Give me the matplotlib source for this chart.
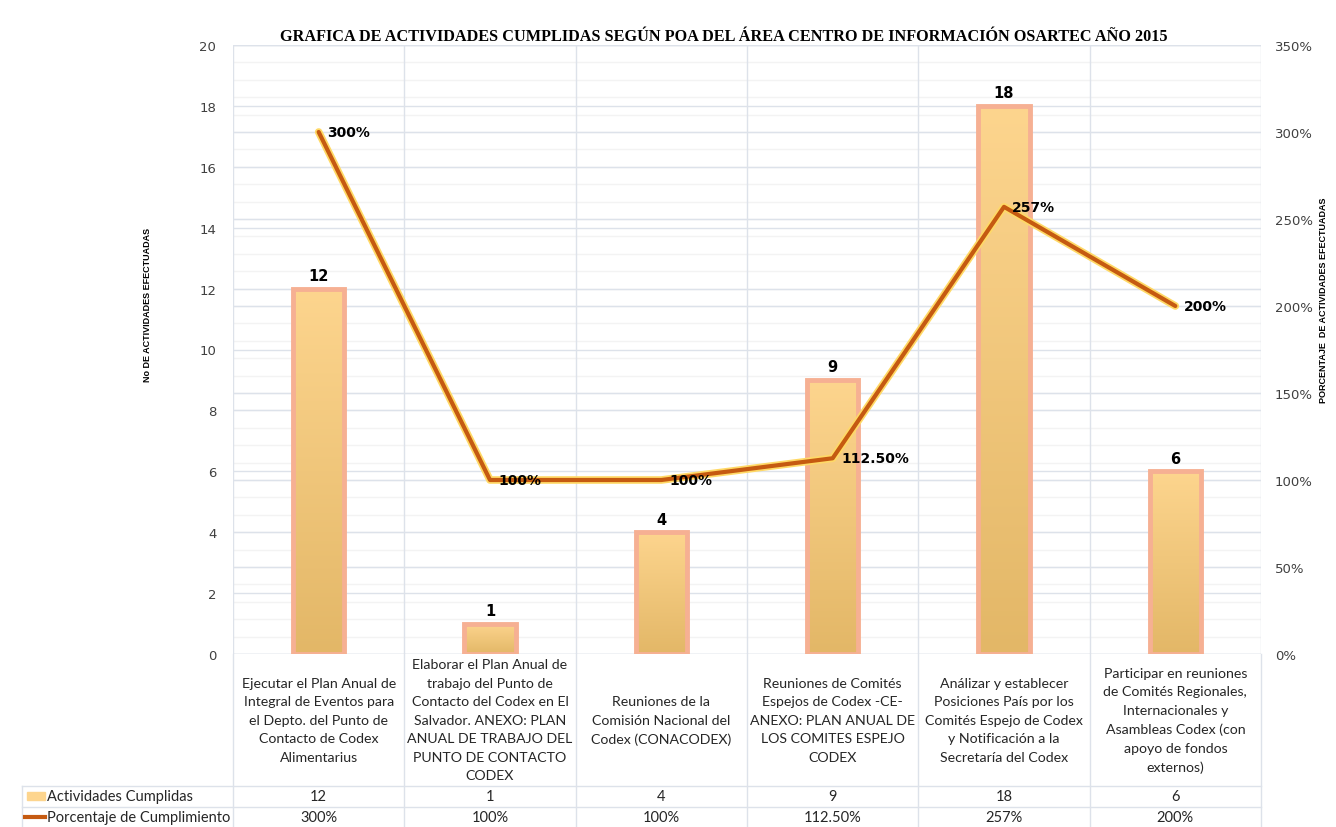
import matplotlib

matplotlib.use("Agg")
import matplotlib.pyplot as plt
import matplotlib.patheffects as pe
import numpy as np
from matplotlib.colors import LinearSegmentedColormap
from matplotlib.patches import Rectangle
from matplotlib.lines import Line2D

categories = [
    "Ejecutar el Plan Anual de\nIntegral de Eventos para\nel Depto. del Punto de\nContacto de Codex\nAlimentarius",
    "Elaborar el Plan Anual de\ntrabajo del Punto de\nContacto del Codex en El\nSalvador. ANEXO: PLAN\nANUAL DE TRABAJO DEL\nPUNTO DE CONTACTO\nCODEX",
    "Reuniones de la\nComisión Nacional del\nCodex (CONACODEX)",
    "Reuniones de Comités\nEspejos de Codex -CE-\nANEXO: PLAN ANUAL DE\nLOS COMITES ESPEJO\nCODEX",
    "Análizar y establecer\nPosiciones País por los\nComités Espejo de Codex\ny Notificación a la\nSecretaría del Codex",
    "Participar en reuniones\nde Comités Regionales,\nInternacionales y\nAsambleas Codex (con\napoyo de fondos\nexternos)",
]
actividades = [12, 1, 4, 9, 18, 6]
porcentaje = [3.00, 1.00, 1.00, 1.125, 2.57, 2.00]
porcentaje_labels = ["300%", "100%", "100%", "112.50%", "257%", "200%"]

title = "GRAFICA DE ACTIVIDADES CUMPLIDAS SEGÚN POA DEL ÁREA CENTRO DE INFORMACIÓN OSARTEC AÑO 2015"
bar_name = "Actividades Cumplidas"
line_name = "Porcentaje de Cumplimiento"

BAR_TOP = "#FDD58E"
BAR_BOT = "#E3B767"
BAR_EDGE = "#F6B093"
LINE_C = "#C55A11"
GLOW = "#FFD966"
GRID_MAJ = "#DDE2EA"
GRID_MIN = "#F3F3F3"
TICK_C = "#404040"

plt.rcParams["font.family"] = ["Lato", "DejaVu Sans"]

fig = plt.figure(figsize=(13.36, 8.28), dpi=100)
ax = fig.add_axes([233 / 1336, 1 - 655 / 828, 1028 / 1336, 609 / 828])
ax2 = ax.twinx()

x = np.arange(len(categories))
n = len(categories)
Y1MAX, Y2MAX = 20, 3.5
scale = Y1MAX / Y2MAX

# grids (all on the primary axes so they stay behind the bars)
ax.set_ylim(0, Y1MAX)
ax2.set_ylim(0, Y2MAX)
ax.set_xlim(-0.5, n - 0.5)
for v in np.arange(0, Y2MAX + 0.01, 0.1):
    ax.axhline(v * scale, color=GRID_MIN, lw=1, zorder=0)
for v in np.arange(0, Y2MAX + 0.01, 0.5):
    ax.axhline(v * scale, color=GRID_MAJ, lw=1, zorder=0.5)
for v in range(0, Y1MAX + 1, 2):
    ax.axhline(v, color=GRID_MAJ, lw=1, zorder=0.5)
for b in np.arange(-0.5, n, 1.0):
    ax.axvline(b, color=GRID_MAJ, lw=1, zorder=0.5)

# bars with gradient
cmap = LinearSegmentedColormap.from_list("bar", [BAR_BOT, BAR_TOP])
grad = np.linspace(0, 1, 256).reshape(-1, 1)
bw = 0.3
bars = ax.bar(x, actividades, width=bw, color="none", edgecolor=BAR_EDGE,
              linewidth=3.5, zorder=3)
for rect, val in zip(bars, actividades):
    rx, rw = rect.get_x(), rect.get_width()
    im = ax.imshow(grad, cmap=cmap, origin="lower", aspect="auto",
                   extent=[rx, rx + rw, 0, val], zorder=2)
    im.set_clip_path(rect)
    ax.text(rx + rw / 2, val + 0.18, str(val), ha="center", va="bottom",
            fontsize=10.5, fontweight="bold", family="DejaVu Sans", zorder=6)
ax.set_xlim(-0.5, n - 0.5)
ax.set_ylim(0, Y1MAX)

# line
ax2.plot(x, porcentaje, color=LINE_C, lw=3, zorder=5, solid_capstyle="round",
         path_effects=[pe.Stroke(linewidth=5.5, foreground=GLOW), pe.Normal()])
for xi, p, lab in zip(x, porcentaje, porcentaje_labels):
    ax2.annotate(lab, (xi, p), xytext=(6, 0), textcoords="offset points",
                 ha="left", va="center", fontsize=10, fontweight="bold",
                 family="DejaVu Sans", zorder=6)

# axes styling
ax.set_xticks([])
ax.set_yticks(range(0, Y1MAX + 1, 2))
ax2.set_yticks(np.arange(0, Y2MAX + 0.01, 0.5))
ax2.set_yticklabels([f"{int(round(v * 100))}%" for v in np.arange(0, Y2MAX + 0.01, 0.5)])
for a in (ax, ax2):
    a.tick_params(length=0, labelsize=9.5, colors=TICK_C)
    for s in a.spines.values():
        s.set_visible(False)
ax.tick_params(axis="y", pad=12)
ax2.tick_params(axis="y", pad=10)
for lbl in ax.get_yticklabels() + ax2.get_yticklabels():
    lbl.set_family("DejaVu Sans")

# data table below
tr = ax.get_xaxis_transform()
y_bottom = -173 / 609
y_row1 = -132 / 609
y_row2 = -153 / 609
x_left = (22 - 233) / 1028
for b in np.arange(-0.5, n, 1.0):
    ax.plot([b, b], [0, y_bottom], transform=tr, color=GRID_MAJ, lw=1, clip_on=False)
for yy in (y_row1, y_row2):
    ax.plot([x_left, 1], [yy, yy], transform=ax.transAxes, color=GRID_MAJ, lw=1, clip_on=False)
ax.plot([x_left, x_left], [y_row1, y_bottom], transform=ax.transAxes, color=GRID_MAJ,
        lw=1, clip_on=False)

for xi, cat in zip(x, categories):
    ax.text(xi, -66 / 609, cat, transform=tr, ha="center", va="center",
            fontsize=10.2, color="#262626", linespacing=1.65, clip_on=False)
r1 = (y_row1 + y_row2) / 2
r2 = (y_row2 + y_bottom) / 2
for xi, a_val, p_lab in zip(x, actividades, porcentaje_labels):
    ax.text(xi, r1, str(a_val), transform=tr, ha="center", va="center",
            fontsize=10.5, color="#262626", clip_on=False)
    ax.text(xi, r2, p_lab, transform=tr, ha="center", va="center",
            fontsize=10.5, color="#262626", clip_on=False)

# legend keys in table
fig.patches.append(Rectangle((27 / 1336, 1 - 801 / 828), 18 / 1336, 8 / 828,
                             transform=fig.transFigure, color=BAR_TOP))
fig.lines.append(Line2D([25 / 1336, 45 / 1336], [1 - 818 / 828, 1 - 818 / 828],
                        transform=fig.transFigure, color=LINE_C, lw=3))
fig.text(47 / 1336, 1 - 797 / 828, bar_name, ha="left", va="center", fontsize=10.5,
         color="#262626")
fig.text(47 / 1336, 1 - 818 / 828, line_name, ha="left", va="center", fontsize=10.5,
         color="#262626")

# titles
fig.text(724 / 1336, 1 - 37 / 828, title, ha="center", va="center", fontsize=11.7,
         fontweight="bold", family=["Liberation Serif", "DejaVu Serif"])
fig.text(148 / 1336, 1 - 305 / 828, "No DE ACTIVIDADES EFECTUADAS", rotation=90,
         ha="center", va="center", fontsize=6.5, fontweight="bold",
         family=["Liberation Sans Narrow", "Liberation Sans"])
fig.text(1323 / 1336, 1 - 300 / 828, "PORCENTAJE  DE ACTIVIDADES EFECTUADAS", rotation=90,
         ha="center", va="center", fontsize=6.5, fontweight="bold",
         family=["Liberation Sans Narrow", "Liberation Sans"])

fig.savefig("out.png", dpi=100, facecolor="white")
